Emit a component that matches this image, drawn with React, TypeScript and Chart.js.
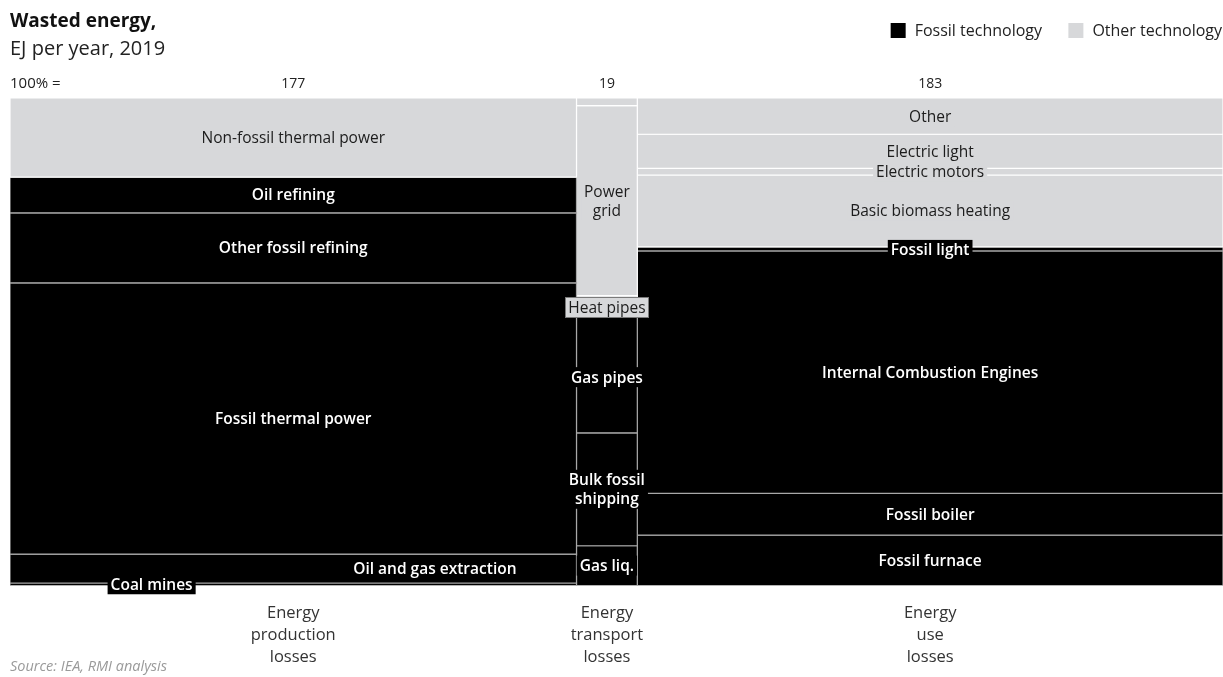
import { useEffect, useRef } from 'react';
import { Chart, registerables } from 'chart.js';

Chart.register(...registerables);

// ---------- data ----------
const columnNames = [
  ['Energy', 'production', 'losses'],
  ['Energy', 'transport', 'losses'],
  ['Energy', 'use', 'losses'],
];
const columnTotals = [177, 19, 183];

const productionLabels = ['Non-fossil thermal power', 'Oil refining', 'Other fossil refining', 'Fossil thermal power', 'Oil and gas extraction', 'Coal mines'];
const productionValues = [28.7, 13.0, 25.4, 98.5, 10.5, 0.9];
const productionTech = ['other', 'fossil', 'fossil', 'fossil', 'fossil', 'fossil'];

const transportLabels = ['', 'Power\ngrid', 'Heat pipes', 'Gas pipes', 'Bulk fossil\nshipping', 'Gas liq.'];
const transportValues = [0.3, 7.4, 0.15, 5.2, 4.4, 1.55];
const transportTech = ['other', 'other', 'other', 'fossil', 'fossil', 'fossil'];

const useLabels = ['Other', 'Electric light', 'Electric motors', 'Basic biomass heating', 'Fossil light', 'Internal Combustion Engines', 'Fossil boiler', 'Fossil furnace'];
const useValues = [13.6, 12.8, 2.5, 27.0, 1.5, 91.0, 15.7, 18.9];
const useTech = ['other', 'other', 'other', 'other', 'fossil', 'fossil', 'fossil', 'fossil'];

const legendLabels = ['Fossil technology', 'Other technology'];
const titleText = 'Wasted energy,';
const subtitleText = 'EJ per year, 2019';
const totalPrefix = '100% =';
const sourceText = 'Source: IEA, RMI analysis';

// ---------- styles ----------
const FONT = '"Open Sans", Lato, sans-serif';
const COLORS: Record<string, string> = { fossil: '#000000', other: '#d7d8da' };
const BORDERS: Record<string, string> = { fossil: '#a8a8a8', other: '#ffffff' };
const TEXT_ON: Record<string, string> = { fossil: '#ffffff', other: '#1c1c1c' };
const labelPlacement: Record<string, { fx?: number; dy?: number; border?: string }> = {
  'Oil and gas extraction': { fx: 0.75 },
  'Coal mines': { fx: 0.25 },
  'Heat pipes': { dy: 10, border: '#7a7a7a' },
  'Gas pipes': { dy: 11 },
  'Fossil light': { dy: 1 },
};
const legendTextRight = [1042, 1222];

type Seg = { label: string; tech: string; x0: number; x1: number; yTop: number; yBot: number };

function buildSegments(): Seg[] {
  const groups = [
    { labels: productionLabels, values: productionValues, tech: productionTech },
    { labels: transportLabels, values: transportValues, tech: transportTech },
    { labels: useLabels, values: useValues, tech: useTech },
  ];
  const segs: Seg[] = [];
  let xStart = 0;
  groups.forEach((g, c) => {
    const x0 = xStart;
    const x1 = xStart + columnTotals[c];
    const sum = g.values.reduce((a, b) => a + b, 0);
    let top = 100;
    g.values.forEach((v, i) => {
      const bot = top - (v / sum) * 100;
      segs.push({ label: g.labels[i], tech: g.tech[i], x0, x1, yTop: top, yBot: bot });
      top = bot;
    });
    xStart = x1;
  });
  return segs;
}

export default function App() {
  const ref = useRef<HTMLCanvasElement | null>(null);

  useEffect(() => {
    document.body.style.margin = '0';
    const canvas = ref.current;
    if (!canvas) return;
    const segs = buildSegments();
    const grandTotal = columnTotals.reduce((a, b) => a + b, 0);
    const centers: number[] = [];
    let acc = 0;
    columnTotals.forEach((t) => {
      centers.push(acc + t / 2);
      acc += t;
    });

    const datasets = segs.map((s) => ({
      label: s.label,
      data: [
        { x: s.x0, y: s.yBot },
        { x: s.x1, y: s.yBot },
        { x: s.x1, y: s.yTop },
        { x: s.x0, y: s.yTop },
        { x: s.x0, y: s.yBot },
      ],
      fill: 'shape',
      backgroundColor: COLORS[s.tech],
      borderColor: BORDERS[s.tech],
      borderWidth: 1.2,
      pointRadius: 0,
      tension: 0,
      xAxisID: 'x',
      yAxisID: 'y',
    }));

    const textPlugin = {
      id: 'texts',
      afterDraw(chart: any) {
        const ctx = chart.ctx as CanvasRenderingContext2D;
        const xs = chart.scales.x;
        const ys = chart.scales.y;
        ctx.save();
        // segment labels
        segs.forEach((s) => {
          if (!s.label) return;
          const p = labelPlacement[s.label.replace('\n', ' ')] || {};
          const fx = p.fx ?? 0.5;
          const cx = xs.getPixelForValue(s.x0 + (s.x1 - s.x0) * fx);
          const cy = (ys.getPixelForValue(s.yTop) + ys.getPixelForValue(s.yBot)) / 2 + (p.dy ?? 0);
          const lines = s.label.split('\n');
          const lh = 19;
          ctx.font = `${s.tech === 'fossil' ? 600 : 400} 15.5px ${FONT}`;
          const w = Math.max(...lines.map((l) => ctx.measureText(l).width)) + 6;
          const h = lines.length * lh + 1;
          ctx.fillStyle = COLORS[s.tech];
          ctx.fillRect(cx - w / 2, cy - h / 2, w, h);
          if (p.border) {
            ctx.strokeStyle = p.border;
            ctx.lineWidth = 1;
            ctx.strokeRect(Math.round(cx - w / 2) + 0.5, Math.round(cy - h / 2) + 0.5, Math.round(w), Math.round(h));
          }
          ctx.fillStyle = TEXT_ON[s.tech];
          ctx.textAlign = 'center';
          ctx.textBaseline = 'middle';
          lines.forEach((l, k) => ctx.fillText(l, cx, cy - ((lines.length - 1) * lh) / 2 + k * lh + 1));
        });
        // titles
        ctx.textAlign = 'left';
        ctx.textBaseline = 'middle';
        ctx.fillStyle = '#111';
        ctx.font = `700 19px ${FONT}`;
        ctx.fillText(titleText, 10, 22);
        ctx.font = `400 20px ${FONT}`;
        ctx.fillStyle = '#222';
        ctx.fillText(subtitleText, 10, 49);
        ctx.font = `400 15px ${FONT}`;
        ctx.fillText(totalPrefix, 10, 84);
        // legend
        ctx.font = `400 16px ${FONT}`;
        legendLabels.forEach((l, i) => {
          const tw = ctx.measureText(l).width;
          const tx = legendTextRight[i] - tw;
          ctx.fillStyle = i === 0 ? COLORS.fossil : COLORS.other;
          ctx.fillRect(tx - 24, 23, 15, 15);
          ctx.fillStyle = '#222';
          ctx.textAlign = 'left';
          ctx.fillText(l, tx, 31);
        });
        // source
        ctx.font = `italic 400 14.5px ${FONT}`;
        ctx.fillStyle = '#9a9a9a';
        ctx.fillText(sourceText, 10, 667);
        ctx.restore();
      },
    };

    const chart = new Chart(canvas, {
      type: 'line',
      data: { datasets: datasets as any },
      options: {
        animation: false,
        responsive: false,
        events: [],
        layout: { padding: { top: 70, left: 10, right: 0, bottom: 0 } },
        plugins: { legend: { display: false }, tooltip: { enabled: false } },
        scales: {
          x: {
            type: 'linear',
            position: 'bottom',
            min: 0,
            max: grandTotal,
            grid: { display: false, drawTicks: false },
            border: { display: false },
            afterBuildTicks: (s: any) => {
              s.ticks = centers.map((value) => ({ value }));
            },
            afterFit: (s: any) => {
              s.height = 91.5;
            },
            ticks: {
              autoSkip: false,
              maxRotation: 0,
              padding: 17,
              color: '#333',
              font: { family: FONT, size: 16.5, lineHeight: 1.32 },
              callback: (_v: any, i: number) => columnNames[i],
            },
          },
          x2: {
            type: 'linear',
            position: 'top',
            min: 0,
            max: grandTotal,
            grid: { display: false, drawTicks: false },
            border: { display: false },
            afterBuildTicks: (s: any) => {
              s.ticks = centers.map((value) => ({ value }));
            },
            afterFit: (s: any) => {
              s.height = 28;
            },
            ticks: {
              autoSkip: false,
              maxRotation: 0,
              padding: 6,
              color: '#222',
              font: { family: FONT, size: 14, lineHeight: 1.2 },
              callback: (_v: any, i: number) => String(columnTotals[i]),
            },
          },
          y: { type: 'linear', min: 0, max: 100, display: false },
        },
      } as any,
      plugins: [textPlugin],
    });
    return () => chart.destroy();
  }, []);

  return <canvas ref={ref} width={1223} height={677} style={{ display: 'block' }} />;
}
